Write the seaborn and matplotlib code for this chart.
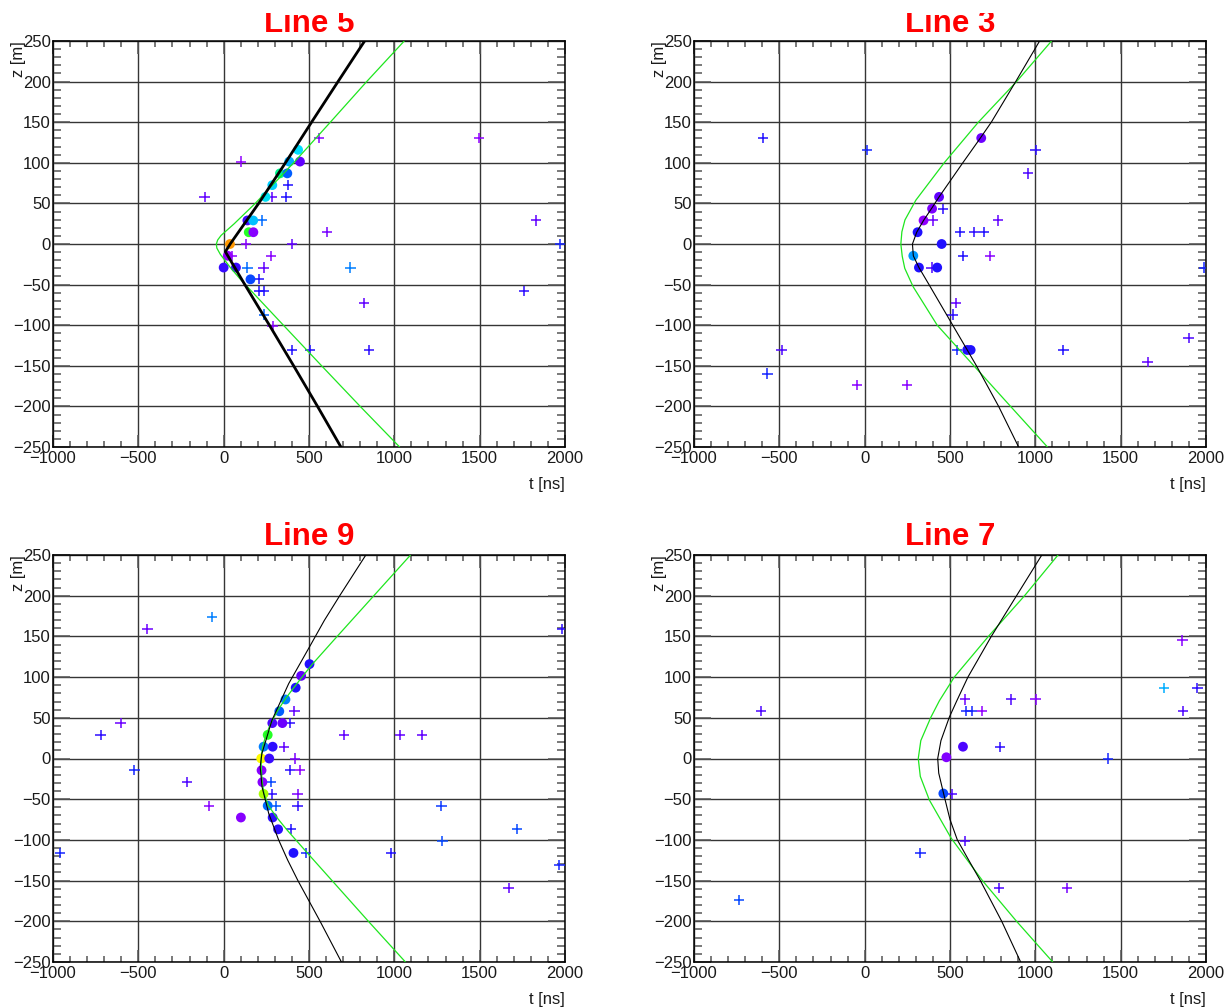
import matplotlib
matplotlib.use("Agg")
import matplotlib.pyplot as plt
import seaborn as sns
import pandas as pd
from matplotlib.colors import LinearSegmentedColormap
from matplotlib.ticker import MultipleLocator
from matplotlib.transforms import Bbox, TransformedBbox

# ---------------- data ----------------
PANEL_TITLES = ["Line 5", "Line 3", "Line 9", "Line 7"]
X_LABEL = "t [ns]"
Y_LABEL = "z [m]"

# Line 5
L5_HIT_T = [436, 384, 447, 330, 373, 285, 245, 139, 173, 147, 174, 37, 24, 0, 72, 157]
L5_HIT_Z = [116, 101.5, 101.5, 87, 87, 72.5, 58, 29, 29, 14.5, 14.5, 0, -14.5, -29, -29, -43.5]
L5_HIT_Q = [0.52, 0.45, 0.12, 0.60, 0.33, 0.50, 0.53, 0.17, 0.48, 0.68, 0.05, 0.93, 0.02, 0.18, 0.18, 0.30]
L5_NOISE_T = [557, 1498, 101, 375, -112, 283, 368, 225, 1830, 604, 132, 400, 1972, 47, 278, 139, 234, 743,
              207, 207, 238, 1758, 822, 238, 287, 400, 507, 851]
L5_NOISE_Z = [130.5, 130.5, 101.5, 72.5, 58, 58, 58, 29, 29, 14.5, 0, 0, 0, -14.5, -14.5, -29, -29, -29,
              -43.5, -58, -58, -58, -72.5, -87, -101.5, -130.5, -130.5, -130.5]
L5_NOISE_Q = [0.05, 0.03, 0.03, 0.22, 0.12, 0.12, 0.22, 0.35, 0.12, 0.08, 0.05, 0.12, 0.25, 0.05, 0.05, 0.35,
              0.12, 0.38, 0.22, 0.22, 0.22, 0.20, 0.12, 0.33, 0.05, 0.22, 0.22, 0.20]
L5_FIT1_Z = [-250, -200, -150, -100, -50, -9.5, 0, 50, 100, 150, 200, 250]
L5_FIT1_T = [687, 550, 410, 268, 124, 10, 38, 205, 362, 515, 670, 826]
L5_FIT2_Z = [-250, -200, -150, -100, -50, -43.5, -29, -12.6, -5, 0, 5, 10.6, 25, 50, 100, 150, 200, 250]
L5_FIT2_T = [1031, 800, 574, 350, 127, 98, 39, -20, -40, -43, -35, -15, 62, 185, 410, 625, 838, 1058]

# Line 3
L3_HIT_T = [683, 436, 395, 345, 310, 451, 285, 318, 425, 601, 621]
L3_HIT_Z = [130.5, 58, 43.5, 29, 14.5, 0, -14.5, -29, -29, -130.5, -130.5]
L3_HIT_Q = [0.10, 0.12, 0.07, 0.03, 0.22, 0.22, 0.42, 0.22, 0.22, 0.22, 0.22]
L3_NOISE_T = [-596, 14, 1001, 956, 460, 402, 781, 558, 642, 699, 576, 734, 392, 1990, 534, 515, -487, 540,
              1165, 1898, 1658, -570, -45, 250]
L3_NOISE_Z = [130.5, 116, 116, 87, 43.5, 29, 29, 14.5, 14.5, 14.5, -14.5, -14.5, -29, -29, -72.5, -87,
              -130.5, -130.5, -130.5, -116, -145, -159.5, -174, -174]
L3_NOISE_Q = [0.22, 0.25, 0.20, 0.15, 0.20, 0.10, 0.12, 0.22, 0.20, 0.22, 0.22, 0.05, 0.15, 0.25, 0.12, 0.20,
              0.15, 0.25, 0.22, 0.15, 0.12, 0.25, 0.05, 0.05]
L3_FIT1_Z = [-250, -200, -150, -130.5, -100, -50, -29, -14.5, 0, 14.5, 29, 45, 58, 100, 130.5, 150, 200, 250]
L3_FIT1_T = [902, 785, 655, 601, 516, 377, 318, 285, 280, 305, 345, 396, 436, 575, 678, 742, 885, 1025]
L3_FIT2_Z = [-250, -200, -150, -100, -52.6, -30, -15, 0, 15, 29.6, 54, 100, 150, 200, 250]
L3_FIT2_T = [1071, 855, 640, 425, 284, 235, 220, 212, 218, 236, 300, 466, 666, 890, 1095]

# Line 9
L9_HIT_T = [503, 454, 422, 362, 326, 285, 344, 258, 234, 287, 220, 267, 222, 227, 234, 258, 287, 101, 319, 409]
L9_HIT_Z = [116, 101.5, 87, 72.5, 58, 43.5, 43.5, 29, 14.5, 14.5, 0, 0, -14.5, -29, -43.5, -58, -72.5, -72.5,
            -87, -116]
L9_HIT_Q = [0.22, 0.12, 0.22, 0.38, 0.33, 0.15, 0.10, 0.68, 0.38, 0.20, 0.86, 0.18, 0.05, 0.05, 0.78, 0.35,
            0.20, 0.05, 0.20, 0.22]
L9_NOISE_T = [-67, -447, 1985, 415, 388, -604, -721, 707, 1033, 1161, 355, 420, -523, 388, 449, -213, 278, 283,
              433, -85, 305, 433, 1276, 393, 1718, 1282, -961, 483, 981, 1967, 1669]
L9_NOISE_Z = [174, 159.5, 159.5, 58, 43.5, 43.5, 29, 29, 29, 29, 14.5, 0, -14.5, -14.5, -14.5, -29, -29, -43.5,
              -43.5, -58, -58, -58, -58, -87, -87, -101.5, -116, -116, -116, -130.5, -159.5]
L9_NOISE_Q = [0.38, 0.10, 0.20, 0.12, 0.20, 0.10, 0.20, 0.12, 0.12, 0.12, 0.12, 0.07, 0.25, 0.20, 0.04, 0.15,
              0.30, 0.20, 0.07, 0.05, 0.32, 0.20, 0.28, 0.22, 0.30, 0.30, 0.25, 0.25, 0.22, 0.25, 0.12]
L9_FIT1_Z = [-250, -200, -150, -124.8, -100, -67.5, -35, -10, 6, 47, 92, 139, 169.7, 200, 250]
L9_FIT1_T = [690, 565, 435, 375, 322, 264, 225, 214, 224, 283, 381, 508, 590, 680, 833]
L9_FIT2_Z = [-250, -200, -150, -116, -87, -72, -58, -43, -29, -14.3, 0, 14.5, 29, 44, 58.4, 73.5, 87.8,
             101.9, 116, 150, 200, 250]
L9_FIT2_T = [1065, 848, 635, 490, 368, 310, 262, 236, 226, 221, 219, 228, 248, 278, 315, 362, 414,
             466, 520, 665, 880, 1095]

# Line 7
L7_HIT_T = [576, 479, 461]
L7_HIT_Z = [14.5, 1.5, -43]
L7_HIT_Q = [0.15, 0.06, 0.30]
L7_NOISE_T = [1862, 1754, 1950, 586, 859, 1001, -607, 594, 628, 686, 1867, 794, 1425, 510, 586, 327, 786, 1184, -737]
L7_NOISE_Z = [145, 87, 87, 72.5, 72.5, 72.5, 58, 58, 58, 58, 58, 14.5, 0, -43.5, -101.5, -116, -159.5, -159.5, -174]
L7_NOISE_Q = [0.05, 0.45, 0.20, 0.10, 0.15, 0.05, 0.15, 0.25, 0.25, 0.03, 0.15, 0.20, 0.25, 0.15, 0.15, 0.25,
              0.15, 0.08, 0.30]
L7_FIT1_Z = [-250, -200, -150, -125, -100, -75, -47, -18, 0, 22, 50.7, 71, 100, 150, 200, 250]
L7_FIT1_T = [914, 803, 678, 610, 543, 500, 467, 434, 428, 447, 496, 540, 605, 742, 890, 1038]
L7_FIT2_Z = [-250, -200, -150, -97.6, -51, -22, 0, 22, 50.7, 71, 100, 150, 200, 250]
L7_FIT2_T = [1102, 890, 690, 506, 379, 326, 314, 329, 388, 438, 525, 725, 937, 1133]

PANELS = [
    (L5_HIT_T, L5_HIT_Z, L5_HIT_Q, L5_NOISE_T, L5_NOISE_Z, L5_NOISE_Q, L5_FIT1_Z, L5_FIT1_T, L5_FIT2_Z, L5_FIT2_T),
    (L3_HIT_T, L3_HIT_Z, L3_HIT_Q, L3_NOISE_T, L3_NOISE_Z, L3_NOISE_Q, L3_FIT1_Z, L3_FIT1_T, L3_FIT2_Z, L3_FIT2_T),
    (L9_HIT_T, L9_HIT_Z, L9_HIT_Q, L9_NOISE_T, L9_NOISE_Z, L9_NOISE_Q, L9_FIT1_Z, L9_FIT1_T, L9_FIT2_Z, L9_FIT2_T),
    (L7_HIT_T, L7_HIT_Z, L7_HIT_Q, L7_NOISE_T, L7_NOISE_Z, L7_NOISE_Q, L7_FIT1_Z, L7_FIT1_T, L7_FIT2_Z, L7_FIT2_T),
]

# ---------------- style ----------------
sns.set_theme(style="white")
plt.rcParams["font.family"] = ["Liberation Sans", "DejaVu Sans"]
plt.rcParams["axes.unicode_minus"] = True

cmap = LinearSegmentedColormap.from_list("rootrainbow", [
    (0.00, "#a000ff"), (0.12, "#6000ff"), (0.22, "#2010ff"), (0.32, "#0058ff"),
    (0.42, "#0098ff"), (0.52, "#00dcff"), (0.62, "#00ff70"), (0.70, "#30ff10"),
    (0.80, "#c8ff00"), (0.86, "#ffff00"), (0.93, "#ffa000"), (1.00, "#ff0000")])

W, H = 1230, 1007
fig = plt.figure(figsize=(W / 100, H / 100), dpi=100)

# pixel boxes: (left, right, top, bottom)
boxes = [(53, 565, 41, 447), (694, 1206, 41, 447), (53, 565, 555, 962), (694, 1206, 555, 962)]
title_base = [31.7, 31.7, 545, 545]

for i, (box, data) in enumerate(zip(boxes, PANELS)):
    l, r, t, b = box
    ax = fig.add_axes([l / W, 1 - b / H, (r - l) / W, (b - t) / H])
    ht, hz, hq, nt, nz, nq, f1z, f1t, f2z, f2t = data

    ax.set_xlim(-1000, 2000)
    ax.set_ylim(-250, 250)
    ax.xaxis.set_major_locator(MultipleLocator(500))
    ax.xaxis.set_minor_locator(MultipleLocator(100))
    ax.yaxis.set_major_locator(MultipleLocator(50))
    ax.yaxis.set_minor_locator(MultipleLocator(10))
    ax.grid(True, which="major", color="#353535", linewidth=1.0)
    ax.set_axisbelow(True)

    noise = pd.DataFrame({"t": nt, "z": nz, "q": nq})
    hits = pd.DataFrame({"t": ht, "z": hz, "q": hq})
    sns.scatterplot(data=noise, x="t", y="z", hue="q", palette=cmap, hue_norm=(0, 1),
                    marker="+", s=55, linewidth=1.1, legend=False, ax=ax, zorder=3)
    sns.scatterplot(data=hits, x="t", y="z", hue="q", palette=cmap, hue_norm=(0, 1),
                    marker="o", s=50, edgecolor="none", legend=False, ax=ax, zorder=4)

    fit1 = pd.DataFrame({"t": f1t, "z": f1z})
    fit2 = pd.DataFrame({"t": f2t, "z": f2z})
    sns.lineplot(data=fit2, x="t", y="z", sort=False, estimator=None, color="#1ee61e",
                 linewidth=0.9, ax=ax, zorder=5)
    sns.lineplot(data=fit1, x="t", y="z", sort=False, estimator=None, color="black",
                 linewidth=2.0 if i == 0 else 0.8, ax=ax, zorder=6)

    ax.set_xlabel("")
    ax.set_ylabel("")
    for s in ax.spines.values():
        s.set_color("black")
        s.set_linewidth(1.1)

    ax.tick_params(axis="both", which="both", direction="in", top=True, right=True,
                   bottom=True, left=True, colors="#555555", labelcolor="#1a1a1a",
                   labelsize=12, width=1.1)
    ax.tick_params(axis="x", which="major", length=9, pad=3)
    ax.tick_params(axis="x", which="minor", length=4.5)
    ax.tick_params(axis="y", which="major", length=12, pad=1.5)
    ax.tick_params(axis="y", which="minor", length=6)

    ax.text(1.0, -0.092, X_LABEL, transform=ax.transAxes, ha="right", va="center",
            fontsize=12, color="#1a1a1a")
    ax.text(-0.068, 1.0, Y_LABEL, transform=ax.transAxes, ha="center", va="top",
            rotation=90, fontsize=12, color="#1a1a1a")

    cx = (l + r) / 2 / W
    ttl = fig.text(cx, 1 - title_base[i] / H, PANEL_TITLES[i], ha="center", va="baseline",
                   fontsize=22.5, fontweight="bold", color="#ff0000")
    ttl.set_clip_box(TransformedBbox(Bbox([[0, 0], [1, 1 - 13 / H]]), fig.transFigure))
    ttl.set_clip_on(True)

fig.savefig("out.png", dpi=100, facecolor="white")
